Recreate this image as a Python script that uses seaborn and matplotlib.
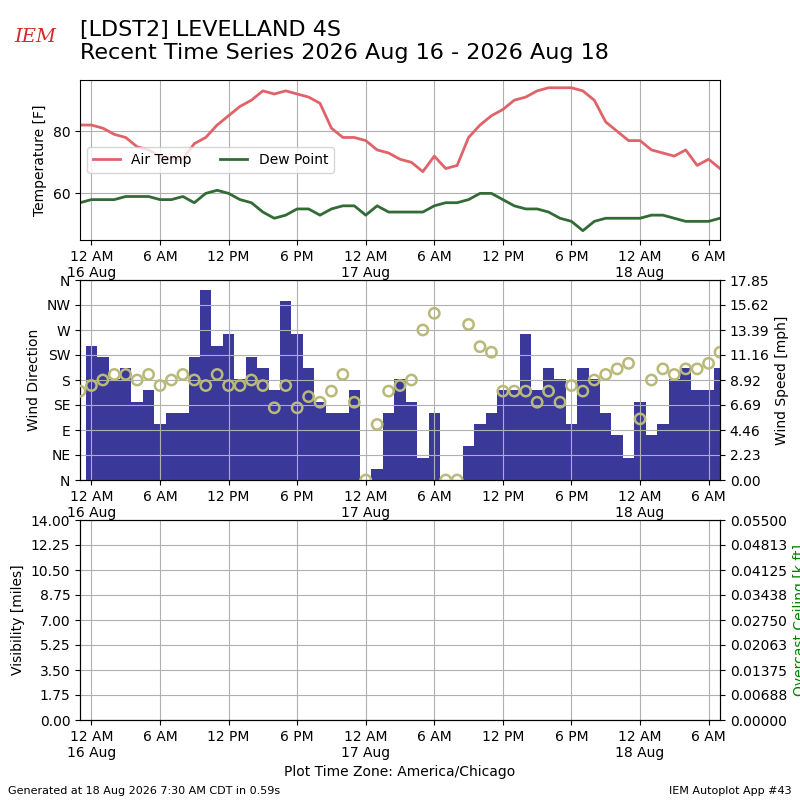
import pandas as pd
import numpy as np
import matplotlib
matplotlib.use('Agg')
import matplotlib.pyplot as plt
import matplotlib.dates as mdates
from matplotlib.ticker import FuncFormatter, FormatStrFormatter
import seaborn as sns

# 观测时间（逐时）
times = pd.date_range('2026-08-15 23:00', '2026-08-18 07:00', freq='h')

# 气温 / 露点 [F]
air_temp = [82, 82, 81, 79, 78, 75, 74, 72, 71, 71, 76, 78, 82, 85, 88, 90, 93, 92, 93,
            92, 91, 89, 81, 78, 78, 77, 74, 73, 71, 70, 67, 72, 68, 69, 78, 82, 85, 87,
            90, 91, 93, 94, 94, 94, 93, 90, 83, 80, 77, 77, 74, 73, 72, 74, 69, 71, 68]
dew_point = [57, 58, 58, 58, 59, 59, 59, 58, 58, 59, 57, 60, 61, 60, 58, 57, 54, 52, 53,
             55, 55, 53, 55, 56, 56, 53, 56, 54, 54, 54, 54, 56, 57, 57, 58, 60, 60, 58,
             56, 55, 55, 54, 52, 51, 48, 51, 52, 52, 52, 52, 53, 53, 52, 51, 51, 51, 52]

# 风速 [mph] / 风向 [deg]
wind_speed = [np.nan, 12, 11, 9, 10, 7, 8, 5, 6, 6, 11, 17, 12, 13, 9, 11, 10, 8, 16,
              13, 10, 7, 6, 6, 8, 0, 1, 6, 9, 7, 2, 6, 0, 0, 3, 5, 6, 8,
              8, 13, 8, 10, 9, 5, 10, 9, 6, 4, 2, 7, 4, 5, 9, 10, 8, 8, 10]
wind_dir = [160, 170, 180, 190, 190, 180, 190, 170, 180, 190, 180, 170, 190, 170, 170, 180, 170, 130, 170,
            130, 150, 140, 160, 190, 140, 0, 100, 160, 170, 180, 270, 300, 0, 0, 280, 240, 230, 160,
            160, 160, 140, 160, 140, 170, 160, 180, 190, 200, 210, 110, 180, 200, 190, 200, 200, 210, 230]

dir_labels = ['N', 'NE', 'E', 'SE', 'S', 'SW', 'W', 'NW', 'N']
speed_labels = ['0.00', '2.23', '4.46', '6.69', '8.92', '11.16', '13.39', '15.62', '17.85']

df = pd.DataFrame({'valid': times, 'tmpf': air_temp, 'dwpf': dew_point,
                   'sped': wind_speed, 'drct': wind_dir})


def time_fmt(x, pos=None):
    dt = mdates.num2date(x)
    if dt.hour == 0:
        return dt.strftime('12 AM\n%-d %b')
    return dt.strftime('%-I %p')


def setup_xaxis(ax):
    ax.xaxis.set_major_locator(mdates.HourLocator(byhour=[0, 6, 12, 18]))
    ax.xaxis.set_major_formatter(FuncFormatter(time_fmt))
    ax.set_xlim(df['valid'].iloc[0], df['valid'].iloc[-1])
    ax.grid(True)


fig = plt.figure(figsize=(8, 8), dpi=100)

# 温度
ax1 = fig.add_axes([0.1, 0.7, 0.8, 0.2])
sns.lineplot(data=df, x='valid', y='tmpf', ax=ax1, color='#e0636a', lw=2, label='Air Temp')
sns.lineplot(data=df, x='valid', y='dwpf', ax=ax1, color='#336b36', lw=2, label='Dew Point')
ax1.set_ylim(45, 96.5)
ax1.set_ylabel('Temperature [F]')
ax1.set_xlabel('')
setup_xaxis(ax1)
ax1.legend(loc='center left', ncol=2)

# 风
ax2 = fig.add_axes([0.1, 0.4, 0.8, 0.25])
ax2.bar(df['valid'], df['sped'], width=1 / 24., color='#3a3899')
ax2.set_ylim(0, 17.85)
ax2.set_yticks(np.linspace(0, 17.85, 9))
ax2.set_yticklabels(speed_labels)
setup_xaxis(ax2)
ax2b = ax2.twinx()
sns.scatterplot(data=df, x='valid', y='drct', ax=ax2b, marker='o', s=55,
                facecolor='none', edgecolor='#b9b97a', linewidth=1.8, zorder=3)
ax2b.set_ylim(0, 360)
ax2b.set_yticks(range(0, 361, 45))
ax2b.set_yticklabels(dir_labels)
ax2.yaxis.tick_right()
ax2.yaxis.set_label_position('right')
ax2b.yaxis.tick_left()
ax2b.yaxis.set_label_position('left')
ax2.set_ylabel('Wind Speed [mph]')
ax2b.set_ylabel('Wind Direction')
ax2.set_xlabel('')
ax2b.set_xlabel('')

# 能见度 / 云幂
ax3 = fig.add_axes([0.1, 0.1, 0.8, 0.25])
ax3.set_ylim(0, 14)
ax3.set_yticks(np.linspace(0, 14, 9))
ax3.yaxis.set_major_formatter(FormatStrFormatter('%.2f'))
ax3.set_ylabel('Visibility [miles]')
setup_xaxis(ax3)
ax3.set_xlabel('Plot Time Zone: America/Chicago')
ax3b = ax3.twinx()
ax3b.set_ylim(0, 0.055)
ax3b.set_yticks(np.linspace(0, 0.055, 9))
ax3b.yaxis.set_major_formatter(FormatStrFormatter('%.5f'))
ax3b.set_ylabel('Overcast Ceiling [k ft]', color='g')

fig.text(0.1, 0.975, '[LDST2] LEVELLAND 4S\nRecent Time Series 2026 Aug 16 - 2026 Aug 18',
         fontsize=16, va='top', ha='left')
fig.text(0.018, 0.947, 'IEM', color='#d62728', fontsize=14, family='serif', style='italic')
fig.text(0.01, 0.008, 'Generated at 18 Aug 2026 7:30 AM CDT in 0.59s', fontsize=8)
fig.text(0.99, 0.008, 'IEM Autoplot App #43', fontsize=8, ha='right')

fig.savefig('out.png', dpi=100)
